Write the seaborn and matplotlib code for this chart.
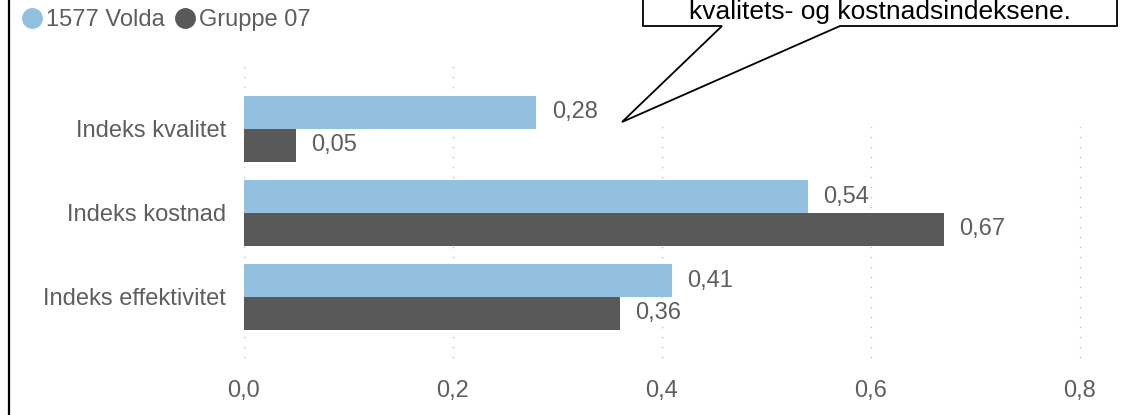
import pandas as pd
import matplotlib.pyplot as plt
import seaborn as sns
from matplotlib.lines import Line2D
from matplotlib.patches import Polygon, Rectangle
from matplotlib.ticker import FuncFormatter

# data
indekser = ["Indeks kvalitet", "Indeks kostnad", "Indeks effektivitet"]
volda = [0.28, 0.54, 0.41]
gruppe07 = [0.05, 0.67, 0.36]
serier = ["1577 Volda", "Gruppe 07"]
xticks = [0.0, 0.2, 0.4, 0.6, 0.8]
notat = "kvalitets- og kostnadsindeksene."

LYS = "#94c0e0"
MORK = "#595959"
TEKST = "#605e5c"

W, H = 1125, 415


def komma(v, dec):
    return f"{v:.{dec}f}".replace(".", ",")


def lag_df():
    df = pd.DataFrame({
        "indeks": indekser * 2,
        "verdi": volda + gruppe07,
        "serie": [serier[0]] * 3 + [serier[1]] * 3,
    })
    return df


def main():
    sns.set_style("white")
    plt.rcParams["font.family"] = ["Liberation Sans", "DejaVu Sans"]

    df = lag_df()

    fig = plt.figure(figsize=(W / 100, H / 100), dpi=100)
    ax = fig.add_axes([244 / W, 1 - 365 / H, (1111 - 244) / W, 300 / H])

    sns.barplot(
        data=df, x="verdi", y="indeks", hue="serie",
        palette=[LYS, MORK], width=0.78, orient="h",
        errorbar=None, ax=ax, legend=False, saturation=1, linewidth=0,
    )

    for cont, vals in zip(ax.containers, [volda, gruppe07]):
        ax.bar_label(cont, labels=[komma(v, 2) for v in vals],
                     padding=11, fontsize=17, color=TEKST)

    ax.set_xlim(0, 0.83)
    ax.set_ylim(2.81, -0.76)
    ax.set_xticks(xticks)
    ax.xaxis.set_major_formatter(FuncFormatter(lambda v, p: komma(v, 1)))
    ax.tick_params(axis="x", length=0, pad=11, labelsize=17, labelcolor=TEKST)
    ax.tick_params(axis="y", length=0, pad=13, labelsize=17, labelcolor=TEKST)
    ax.set_xlabel("")
    ax.set_ylabel("")
    ax.grid(axis="x", color="#c0c0c0", linewidth=1, linestyle=(2, (1, 6.2)))
    ax.set_axisbelow(True)
    for s in ax.spines.values():
        s.set_visible(False)

    # legend
    handles = [
        Line2D([], [], marker="o", linestyle="", markersize=14,
               markerfacecolor=c, markeredgecolor=c)
        for c in [LYS, MORK]
    ]
    fig.legend(handles, serier, loc="upper left",
               bbox_to_anchor=(2 / W, 1.017), ncol=2, frameon=False,
               fontsize=17, labelcolor=TEKST, handletextpad=0.05,
               columnspacing=0.3, handlelength=1.1, borderpad=0.2)

    # venstre kantlinje
    fig.add_artist(Line2D([8.5 / W, 8.5 / W], [0, 1], color="black",
                          linewidth=1.6, transform=fig.transFigure))

    # notatboble
    def fp(x, y):
        return (x / W, 1 - y / H)

    fig.add_artist(Rectangle(fp(620, 127), (W - 620) / W, 140 / H,
                             transform=fig.transFigure, facecolor="white",
                             edgecolor="none"))
    pts = [fp(643, -20), fp(643, 26), fp(722, 26), fp(622, 122),
           fp(840, 26), fp(1117, 26), fp(1117, -20)]
    fig.add_artist(Polygon(pts, closed=True, transform=fig.transFigure,
                           facecolor="white", edgecolor="black",
                           linewidth=1.3))
    fig.text(880 / W, 1 - 12 / H, notat, ha="center", va="center",
             fontsize=19, color="black")

    fig.savefig("out.png", dpi=100)
    plt.close(fig)


if __name__ == "__main__":
    main()
